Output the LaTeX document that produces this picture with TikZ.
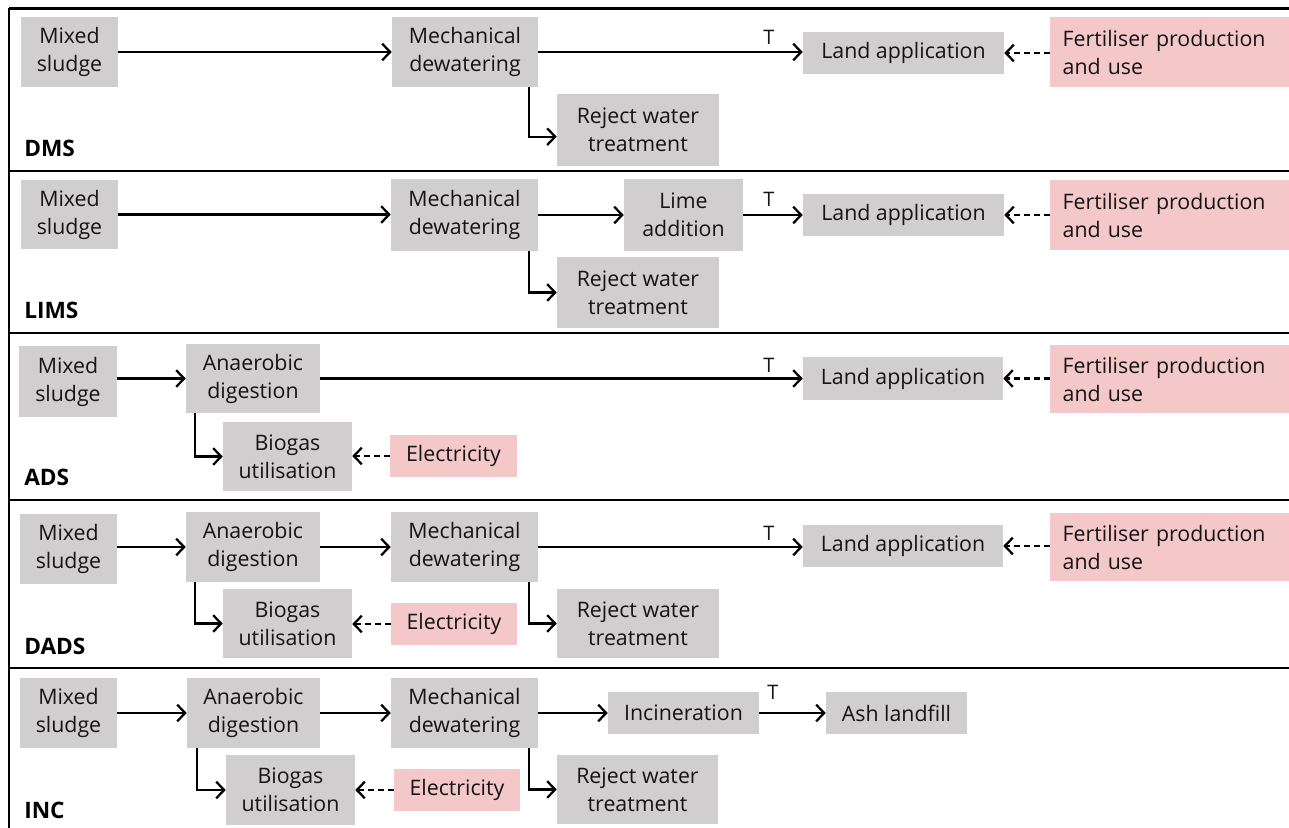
\documentclass[tikz,border=0pt]{standalone}
\usepackage{fontspec}
\setmainfont{Open Sans}
\usetikzlibrary{arrows.meta,calc}
\definecolor{boxgrey}{HTML}{D0CECE}
\definecolor{boxpink}{HTML}{F4C7C8}
\definecolor{txt}{HTML}{141414}
\newcommand\mybox[7]{\node[#1, minimum width={(#5-#3)*0.75pt}, minimum height={(#6-#4)*0.75pt}] (#2) at ({(#3+#5)/2},{(#4+#6)/2}) {#7};}
\begin{document}
\begin{tikzpicture}[x=0.75pt,y=-0.75pt,
 base/.style={inner sep=0pt, align=center, text=txt, font=\fontsize{16pt}{21pt}\selectfont},
 gbox/.style={base, fill=boxgrey},
 pbox/.style={base, fill=boxpink},
 fert/.style={pbox, align=left, inner xsep=9.5pt, text width=160.25pt},
 arr/.style={line width=1.7pt, -{Straight Barb[length=6pt,width=12.5pt]}},
 darr/.style={arr, dash pattern=on 4.5pt off 3pt},
 tlab/.style={text=txt, font=\fontsize{15pt}{16pt}\selectfont, inner sep=0pt},
 plab/.style={anchor=west, inner sep=0pt, font=\bfseries\fontsize{17pt}{18pt}\selectfont},
 frame/.style={line width=2pt}
]
\useasboundingbox (0,0) rectangle (1289,828);
% frames
\draw[frame] (9,8.5) -- (1289,8.5);
\draw[frame] (9,171) -- (1289,171);
\draw[frame] (9,333) -- (1289,333);
\draw[frame] (9,500) -- (1289,500);
\draw[frame] (9,668) -- (1289,668);
\draw[frame] (9,7.5) -- (9,828);

% ---------- DMS
\mybox{gbox}{ms1}{21}{17}{118}{87}{Mixed\\sludge}
\mybox{gbox}{md1}{392}{17}{538}{87}{Mechanical\\dewatering}
\mybox{gbox}{la1}{803}{32}{1004}{74}{Land application}
\mybox{fert}{fe1}{1050}{17}{1289}{87}{Fertiliser production\\and use}
\mybox{gbox}{rw1}{557}{94}{719}{166}{Reject water\\treatment}
\node[plab] (l1) at (24,148) {DMS};
\node[tlab] (t1) at (769,37) {T};
\draw[arr] (ms1.east) -- (ms1.east -| md1.west);
\draw[arr] (md1.east) -- (md1.east -| la1.west);
\draw[arr] ([xshift=-6.75pt]md1.south east) |- ([yshift=-5pt]rw1.west);
\draw[darr] (fe1.west |- la1.east) -- (la1.east);

% ---------- LIMS
\mybox{gbox}{ms2}{21}{180}{118}{249}{Mixed\\sludge}
\mybox{gbox}{md2}{391}{179}{538}{251}{Mechanical\\dewatering}
\mybox{gbox}{li2}{624}{179}{743}{251}{Lime\\addition}
\mybox{gbox}{la2}{803}{194}{1004}{236}{Land application}
\mybox{fert}{fe2}{1050}{180}{1289}{250}{Fertiliser production\\and use}
\mybox{gbox}{rw2}{557}{257}{719}{328}{Reject water\\treatment}
\node[plab] (l2) at (24,310) {LIMS};
\node[tlab] (t2) at (769,199) {T};
\draw[arr] (ms2.east) -- (ms2.east -| md2.west);
\draw[arr] (md2.east) -- (md2.east -| li2.west);
\draw[arr] (li2.east) -- (li2.east -| la2.west);
\draw[arr] ([xshift=-6.75pt]md2.south east) |- (rw2.west);
\draw[darr] (fe2.west |- la2.east) -- (la2.east);

% ---------- ADS
\mybox{gbox}{ms3}{19}{346}{117}{417}{Mixed\\sludge}
\mybox{gbox}{ad3}{186}{344}{320}{413}{Anaerobic\\digestion}
\mybox{gbox}{la3}{803}{357}{1003}{400}{Land application}
\mybox{fert}{fe3}{1050}{345}{1289}{413}{Fertiliser production\\and use}
\mybox{gbox}{bg3}{223}{422}{352}{491}{Biogas\\utilisation}
\mybox{pbox}{el3}{390}{435}{517}{477}{Electricity}
\node[plab] (l3) at (24,477) {ADS};
\node[tlab] (t3) at (769,365) {T};
\draw[arr] (ms3.east |- ad3.east) -- (ad3.west);
\draw[arr] (ad3.east) -- (ad3.east -| la3.west);
\draw[arr] ([xshift=7pt]ad3.south west) |- (bg3.west);
\draw[darr] (el3.west) -- (el3.west -| bg3.east);
\draw[darr] (fe3.west |- la3.east) -- (la3.east);

% ---------- DADS
\mybox{gbox}{ms4}{20}{514}{117}{584}{Mixed\\sludge}
\mybox{gbox}{ad4}{186}{512}{320}{582}{Anaerobic\\digestion}
\mybox{gbox}{md4}{391}{512}{538}{582}{Mechanical\\dewatering}
\mybox{gbox}{la4}{803}{525}{1003}{567}{Land application}
\mybox{fert}{fe4}{1050}{513}{1289}{581}{Fertiliser production\\and use}
\mybox{gbox}{bg4}{223}{589}{352}{658}{Biogas\\utilisation}
\mybox{pbox}{el4}{391}{603}{517}{645}{Electricity}
\mybox{gbox}{rw4}{557}{589}{719}{658}{Reject water\\treatment}
\node[plab] (l4) at (24,646) {DADS};
\node[tlab] (t4) at (769,533) {T};
\draw[arr] (ms4.east |- ad4.east) -- (ad4.west);
\draw[arr] (ad4.east) -- (ad4.east -| md4.west);
\draw[arr] (md4.east) -- (md4.east -| la4.west);
\draw[arr] ([xshift=7pt]ad4.south west) |- (bg4.west);
\draw[arr] ([xshift=-6.75pt]md4.south east) |- (rw4.west);
\draw[darr] (el4.west) -- (el4.west -| bg4.east);
\draw[darr] (fe4.west |- la4.east) -- (la4.east);

% ---------- INC
\mybox{gbox}{ms5}{20}{678}{117}{748}{Mixed\\sludge}
\mybox{gbox}{ad5}{187}{678}{320}{748}{Anaerobic\\digestion}
\mybox{gbox}{md5}{391}{678}{538}{748}{Mechanical\\dewatering}
\mybox{gbox}{in5}{608}{692}{759}{734}{Incineration}
\mybox{gbox}{ash5}{826}{692}{967}{734}{Ash landfill}
\mybox{gbox}{bg5}{226}{755}{355}{825}{Biogas\\utilisation}
\mybox{pbox}{el5}{394}{769}{520}{811}{Electricity}
\mybox{gbox}{rw5}{557}{755}{718}{824}{Reject water\\treatment}
\node[plab] (l5) at (24,810) {INC};
\node[tlab] (t5) at (773,692) {T};
\draw[arr] (ms5.east) -- (ms5.east -| ad5.west);
\draw[arr] (ad5.east) -- (ad5.east -| md5.west);
\draw[arr] (md5.east |- in5.west) -- (in5.west);
\draw[arr] (in5.east) -- (in5.east -| ash5.west);
\draw[arr] ([xshift=7.5pt]ad5.south west) |- (bg5.west);
\draw[arr] ([xshift=-6.75pt]md5.south east) |- (rw5.west);
\draw[darr] (el5.west) -- (el5.west -| bg5.east);
\end{tikzpicture}
\end{document}
